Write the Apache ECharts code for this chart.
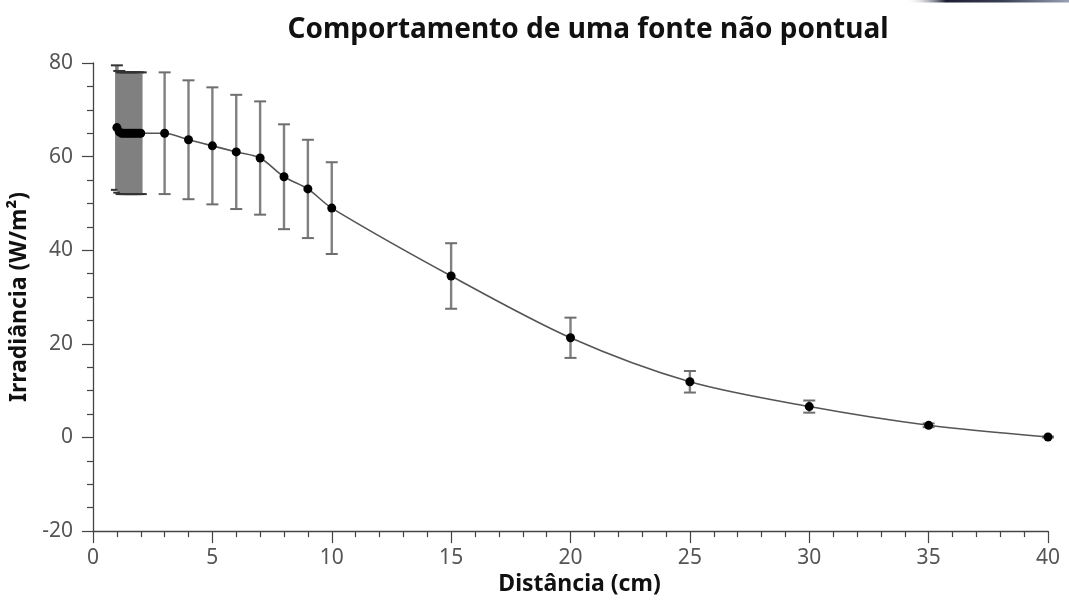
<!DOCTYPE html>
<html>
<head>
<meta charset="utf-8">
<script src="https://cdn.jsdelivr.net/npm/echarts@6/dist/echarts.min.js"></script>
<style>
html,body{margin:0;padding:0;background:#fff;}
#c{width:1069px;height:601px;}
</style>
</head>
<body>
<div id="c"></div>
<script>
var distances = [1.0,1.1,1.2,1.3,1.4,1.5,1.6,1.7,1.8,1.9,2.0,3,4,5,6,7,8,9,10,15,20,25,30,35,40];
var irradiance = [66.2,65.3,65.0,65.0,65.0,65.0,65.0,65.0,65.0,65.0,65.0,65.0,63.6,62.3,61.0,59.7,55.7,53.1,49.0,34.5,21.3,11.9,6.6,2.6,0.1];
var errors = [13.3,13.0,13.0,13.0,13.0,13.0,13.0,13.0,13.0,13.0,13.0,13.0,12.7,12.5,12.2,12.1,11.2,10.5,9.8,7.0,4.3,2.3,1.3,0.4,0.1];
var xTicks = [0,5,10,15,20,25,30,35,40];
var yTicks = [-20,0,20,40,60,80];

var pts = distances.map(function(d,i){return [d, irradiance[i]];});
var errData = distances.map(function(d,i){return [d, irradiance[i]-errors[i], irradiance[i]+errors[i]];});

var chart = echarts.init(document.getElementById('c'), null, {renderer:'canvas'});
var FONT = '"Noto Sans", "Open Sans", sans-serif';
chart.setOption({
  animation:false,
  backgroundColor:'#fff',
  title:{
    text:'Comportamento de uma fonte não pontual',
    left:583, top:11, textAlign:'center',
    textStyle:{fontFamily:FONT,fontSize:28,fontWeight:'bold',color:'#111'}
  },
  graphic:[{
    type:'rect', shape:{x:905,y:0,width:164,height:2.5},
    style:{fill:new echarts.graphic.LinearGradient(0,0,1,0,[{offset:0,color:'rgba(255,255,255,0)'},{offset:0.25,color:'#1a1f33'},{offset:0.6,color:'#3a3f58'},{offset:1,color:'#9aa0b8'}])}
  }],
  grid:{left:93,right:21,top:63,bottom:67},
  xAxis:{
    type:'value', min:xTicks[0], max:xTicks[xTicks.length-1], interval:5,
    name:'Distância (cm)', nameLocation:'middle', nameGap:41,
    nameTextStyle:{fontFamily:FONT,fontSize:23,fontWeight:'bold',color:'#111',padding:[0,0,0,18]},
    axisLine:{onZero:false,lineStyle:{color:'#444',width:1.3}},
    axisTick:{show:true,length:12,lineStyle:{color:'#444',width:1.2}},
    minorTick:{show:true,splitNumber:5,length:6,lineStyle:{color:'#444',width:1.2}},
    splitLine:{show:false},
    axisLabel:{fontFamily:FONT,fontSize:21,color:'#555',margin:16}
  },
  yAxis:{
    type:'value', min:yTicks[0], max:yTicks[yTicks.length-1], interval:20,
    name:'Irradiância (W/m²)', nameLocation:'middle', nameGap:59,
    nameTextStyle:{fontFamily:FONT,fontSize:23,fontWeight:'bold',color:'#111'},
    axisLine:{show:true,onZero:false,lineStyle:{color:'#444',width:1.3}},
    axisTick:{show:true,length:11,lineStyle:{color:'#444',width:1.2}},
    minorTick:{show:true,splitNumber:4,length:6,lineStyle:{color:'#444',width:1.2}},
    splitLine:{show:false},
    axisLabel:{fontFamily:FONT,fontSize:21,color:'#555',margin:20}
  },
  series:[
    {
      type:'custom',
      data:errData,
      z:1,
      renderItem:function(params, api){
        var i = params.dataIndex;
        var x = api.value(0), lo = api.value(1), hi = api.value(2);
        var p1 = api.coord([x, hi]), p2 = api.coord([x, lo]);
        // dense neighbours: widen the stroke so overlapping bars merge into a solid block
        var dense = (i > 0 && Math.abs(distances[i]-distances[i-1]) < 0.5) ||
                    (i < distances.length-1 && Math.abs(distances[i+1]-distances[i]) < 0.5);
        var hw = 6;
        var vs = {stroke:'#808080', lineWidth: dense ? 3.6 : 2.4};
        var cs = {stroke: dense ? '#333' : '#6e6e6e', lineWidth:2};
        return {type:'group', children:[
          {type:'line', shape:{x1:p1[0],y1:p1[1],x2:p2[0],y2:p2[1]}, style:vs},
          {type:'line', shape:{x1:p1[0]-hw,y1:p1[1],x2:p1[0]+hw,y2:p1[1]}, style:cs},
          {type:'line', shape:{x1:p2[0]-hw,y1:p2[1],x2:p2[0]+hw,y2:p2[1]}, style:cs}
        ]};
      }
    },
    {
      type:'line',
      data:pts,
      smooth:0.3,
      z:3,
      symbol:'circle', symbolSize:9,
      itemStyle:{color:'#000'},
      lineStyle:{color:'#555',width:1.6}
    }
  ]
});
</script>
</body>
</html>
